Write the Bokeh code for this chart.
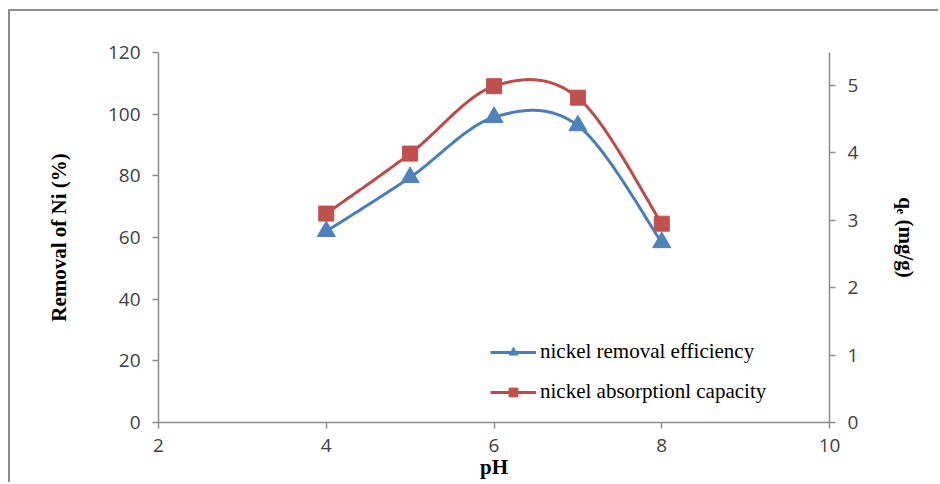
import numpy as np
from bokeh.plotting import figure
from bokeh.models import Range1d, LinearAxis, FixedTicker, Legend, LegendItem
from bokeh.embed import file_html
from bokeh.resources import INLINE

# ---- data ----
ph = [4, 5, 6, 7, 8]
removal_pct = [62.0, 79.5, 99.0, 96.3, 58.4]
capacity_mg_g = [3.10, 3.99, 4.99, 4.82, 2.95]
x_ticks = [2, 4, 6, 8, 10]
left_ticks = [0, 20, 40, 60, 80, 100, 120]
right_ticks = [0, 1, 2, 3, 4, 5]
series_names = ["nickel removal efficiency", "nickel absorptionl capacity"]

BLUE_LINE, BLUE_FILL = "#4A7EBB", "#4F81BD"
RED_LINE, RED_FILL = "#BE4B48", "#C0504D"
AXIS_COL = "#8C8C8C"
TICK_COL = "#404040"


def smooth(xs, ys, n=40):
    """Excel-like smoothed line (Catmull-Rom Bezier) through the data points."""
    xs = np.asarray(xs, float)
    ys = np.asarray(ys, float)
    px = np.concatenate([[xs[0]], xs, [xs[-1]]])
    py = np.concatenate([[ys[0]], ys, [ys[-1]]])
    ox, oy = [], []
    t = np.linspace(0, 1, n)
    for i in range(len(xs) - 1):
        p0 = np.array([px[i], py[i]])
        p1 = np.array([px[i + 1], py[i + 1]])
        p2 = np.array([px[i + 2], py[i + 2]])
        p3 = np.array([px[i + 3], py[i + 3]])
        b1 = p1 + (p2 - p0) / 6.0
        b2 = p2 - (p3 - p1) / 6.0
        for tt in t:
            pt = ((1 - tt) ** 3) * p1 + 3 * ((1 - tt) ** 2) * tt * b1 + 3 * (1 - tt) * tt ** 2 * b2 + tt ** 3 * p2
            ox.append(pt[0])
            oy.append(pt[1])
    return ox, oy


p = figure(width=930, height=473, output_backend="svg", toolbar_location=None,
           x_range=Range1d(2, 10), y_range=Range1d(0, 120),
           min_border_left=148, min_border_right=111, min_border_top=41, min_border_bottom=62,
           background_fill_color="white", border_fill_color="white")
p.outline_line_color = None
p.grid.visible = False
p.styles = {"margin-left": "8px", "margin-top": "9px",
            "border-left": "2px solid #8C8C8C", "border-top": "2px solid #8C8C8C"}

p.extra_y_ranges = {"q": Range1d(0, 5.49)}

# curves
bx, by = smooth(ph, removal_pct)
l1 = p.line(bx, by, line_color=BLUE_LINE, line_width=3)
s1 = p.scatter(ph, removal_pct, marker="triangle", size=18,
               fill_color=BLUE_FILL, line_color=BLUE_FILL)

rx, ry = smooth(ph, capacity_mg_g)
l2 = p.line(rx, ry, line_color=RED_LINE, line_width=3, y_range_name="q")
s2 = p.scatter(ph, capacity_mg_g, marker="square", size=15,
               fill_color=RED_FILL, line_color=RED_FILL, y_range_name="q")

# axes
tick_font = "Open Sans"
label_font = "Liberation Serif"

xa = p.xaxis[0]
xa.ticker = FixedTicker(ticks=x_ticks)
xa.axis_label = "pH"

ya = p.yaxis[0]
ya.ticker = FixedTicker(ticks=left_ticks)
ya.axis_label = "Removal of Ni (%)"

ra = LinearAxis(y_range_name="q", ticker=FixedTicker(ticks=right_ticks),
                axis_label="q\u2091 (mg/g)")
p.add_layout(ra, "right")

for ax in [xa, ya, ra]:
    ax.axis_line_color = AXIS_COL
    ax.axis_line_width = 1.5
    ax.major_tick_line_color = AXIS_COL
    ax.major_tick_line_width = 1.5
    ax.major_tick_in = 0
    ax.major_tick_out = 6
    ax.minor_tick_line_color = None
    ax.major_label_text_font = tick_font
    ax.major_label_text_font_size = "19px"
    ax.major_label_text_color = TICK_COL
    ax.major_label_standoff = 12
    ax.axis_label_text_font = label_font
    ax.axis_label_text_font_style = "bold"
    ax.axis_label_text_font_size = "21px"
    ax.axis_label_text_color = "black"
xa.major_label_standoff = 10
xa.axis_label_standoff = 0
ya.axis_label_standoff = 34
ra.axis_label_standoff = 33

legend = Legend(items=[LegendItem(label=series_names[0], renderers=[l1, s1]),
                       LegendItem(label=series_names[1], renderers=[l2, s2])],
                location=(332, 18))
legend.label_text_font = label_font
legend.label_text_font_size = "21px"
legend.label_text_color = "black"
legend.glyph_width = 46
legend.glyph_height = 22
legend.label_height = 22
legend.label_standoff = 4
legend.spacing = 15
legend.padding = 0
legend.margin = 0
legend.border_line_color = None
legend.background_fill_alpha = 0
p.add_layout(legend)

open("out.html", "w").write(file_html(p, INLINE))
